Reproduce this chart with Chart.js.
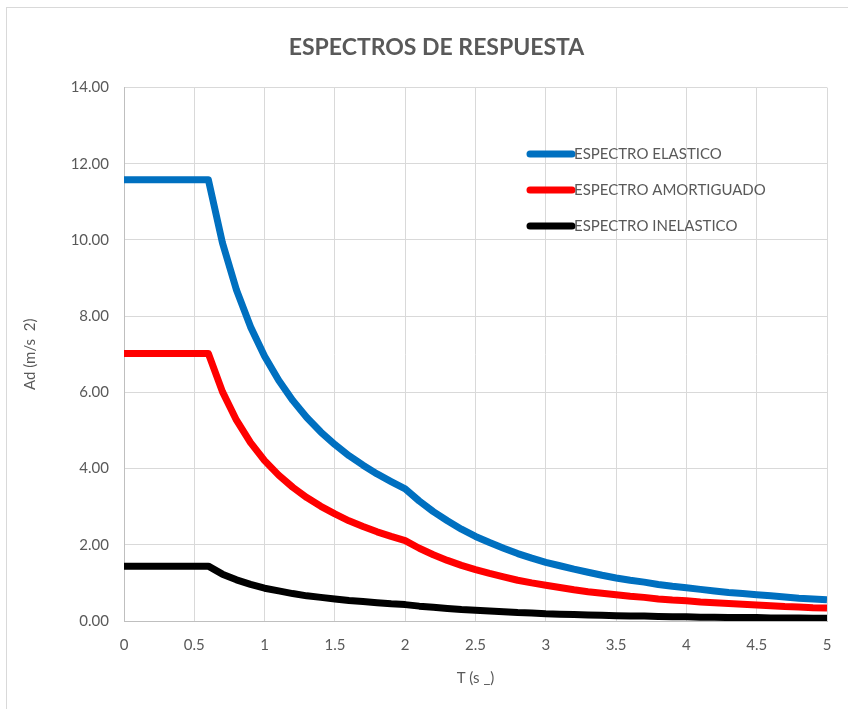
<!DOCTYPE html>
<html>
<head>
<meta charset="utf-8">
<title>Espectros de respuesta</title>
<script src="https://cdn.jsdelivr.net/npm/chart.js@4.4.1/dist/chart.umd.min.js"></script>
<style>
    html, body { margin: 0; padding: 0; background: #ffffff; overflow: hidden; }
    #wrap { position: relative; width: 848px; height: 709px; }
    #frame {
        position: absolute; left: 6px; top: 7px; width: 900px; height: 800px;
        border-left: 1px solid #d9d9d9; border-top: 1px solid #d9d9d9;
    }
    #espectros { position: absolute; left: 0; top: 0; }
</style>
</head>
<body>
<div id="wrap">
    <div id="frame"></div>
    <canvas id="espectros" width="848" height="709"></canvas>
</div>
<script>
// Periodo T (s)
const periods = [
    0.0, 0.1, 0.2, 0.3, 0.4, 0.5, 0.6, 0.7, 0.8, 0.9,
    1.0, 1.1, 1.2, 1.3, 1.4, 1.5, 1.6, 1.7, 1.8, 1.9,
    2.0, 2.1, 2.2, 2.3, 2.4, 2.5, 2.6, 2.7, 2.8, 2.9,
    3.0, 3.1, 3.2, 3.3, 3.4, 3.5, 3.6, 3.7, 3.8, 3.9,
    4.0, 4.1, 4.2, 4.3, 4.4, 4.5, 4.6, 4.7, 4.8, 4.9,
    5.0
];

// Ad (m/s2)
const espectroElastico = [
    11.58, 11.58, 11.58, 11.58, 11.58, 11.58, 11.58, 9.93, 8.69, 7.72,
    6.95, 6.32, 5.79, 5.34, 4.96, 4.63, 4.34, 4.09, 3.86, 3.66,
    3.47, 3.15, 2.87, 2.63, 2.41, 2.22, 2.06, 1.91, 1.77, 1.65,
    1.54, 1.45, 1.36, 1.28, 1.20, 1.13, 1.07, 1.02, 0.96, 0.91,
    0.87, 0.83, 0.79, 0.75, 0.72, 0.69, 0.66, 0.63, 0.60, 0.58,
    0.56
];

const espectroAmortiguado = [
    7.02, 7.02, 7.02, 7.02, 7.02, 7.02, 7.02, 6.02, 5.27, 4.68,
    4.21, 3.83, 3.51, 3.24, 3.01, 2.81, 2.63, 2.48, 2.34, 2.22,
    2.11, 1.91, 1.74, 1.59, 1.46, 1.35, 1.25, 1.16, 1.07, 1.00,
    0.94, 0.88, 0.82, 0.77, 0.73, 0.69, 0.65, 0.62, 0.58, 0.55,
    0.53, 0.50, 0.48, 0.46, 0.44, 0.42, 0.40, 0.38, 0.37, 0.35,
    0.34
];

const espectroInelastico = [
    1.44, 1.44, 1.44, 1.44, 1.44, 1.44, 1.44, 1.23, 1.08, 0.96,
    0.86, 0.79, 0.72, 0.66, 0.62, 0.58, 0.54, 0.51, 0.48, 0.45,
    0.43, 0.39, 0.36, 0.33, 0.30, 0.28, 0.26, 0.24, 0.22, 0.21,
    0.19, 0.18, 0.17, 0.16, 0.15, 0.14, 0.13, 0.13, 0.12, 0.11,
    0.11, 0.10, 0.10, 0.09, 0.09, 0.09, 0.08, 0.08, 0.08, 0.07,
    0.07
];

const seriesNames = ['ESPECTRO ELASTICO', 'ESPECTRO AMORTIGUADO', 'ESPECTRO INELASTICO'];
const seriesColors = ['#0070c0', '#ff0000', '#000000'];

const textColor = '#595959';
const gridColor = '#d9d9d9';
const baseFont = 'Lato, "Liberation Sans", sans-serif';

function toPoints(values) {
    return periods.map((t, i) => ({ x: t, y: values[i] }));
}

function makeDataset(idx, values) {
    return {
        label: seriesNames[idx],
        data: toPoints(values),
        borderColor: seriesColors[idx],
        backgroundColor: seriesColors[idx],
        borderWidth: 7,
        borderJoinStyle: 'round',
        borderCapStyle: 'butt',
        pointRadius: 0,
        tension: 0,
        fill: false
    };
}

// Legend drawn inside the plot area, like the Excel original
const insideLegend = {
    id: 'insideLegend',
    afterDatasetsDraw(chart) {
        const ctx = chart.ctx;
        const x0 = 530, x1 = 572, yStart = 154, gap = 36;
        ctx.save();
        ctx.font = '15px ' + baseFont;
        ctx.textBaseline = 'middle';
        ctx.textAlign = 'left';
        chart.data.datasets.forEach((ds, i) => {
            const y = yStart + i * gap;
            ctx.strokeStyle = ds.borderColor;
            ctx.lineWidth = 7;
            ctx.lineCap = 'round';
            ctx.beginPath();
            ctx.moveTo(x0, y);
            ctx.lineTo(x1, y);
            ctx.stroke();
            ctx.fillStyle = textColor;
            ctx.fillText(ds.label, x1 + 2, y);
        });
        ctx.restore();
    }
};

const ctx = document.getElementById('espectros').getContext('2d');

new Chart(ctx, {
    type: 'line',
    data: {
        datasets: [
            makeDataset(0, espectroElastico),
            makeDataset(1, espectroAmortiguado),
            makeDataset(2, espectroInelastico)
        ]
    },
    options: {
        responsive: false,
        animation: false,
        layout: {
            padding: { left: 46, right: 21, top: 10, bottom: 0 }
        },
        plugins: {
            legend: { display: false },
            tooltip: { enabled: false },
            title: {
                display: true,
                text: 'ESPECTROS DE RESPUESTA',
                color: textColor,
                font: { family: baseFont, size: 23, weight: 'bold' },
                padding: { top: 24, bottom: 26 }
            }
        },
        scales: {
            x: {
                type: 'linear',
                min: 0,
                max: 5,
                afterFit(scale) { scale.height = 88; },
                ticks: {
                    stepSize: 0.5,
                    color: textColor,
                    font: { family: baseFont, size: 15 },
                    padding: 15,
                    maxRotation: 0,
                    callback: (v) => String(Math.round(v * 10) / 10)
                },
                grid: { color: gridColor, drawTicks: false },
                border: { color: '#bfbfbf' },
                title: {
                    display: true,
                    text: 'T (s _)',
                    color: textColor,
                    font: { family: baseFont, size: 15 },
                    padding: { top: 0, bottom: 22 }
                }
            },
            y: {
                min: 0,
                max: 14,
                afterFit(scale) { scale.width = 78; },
                ticks: {
                    stepSize: 2,
                    color: textColor,
                    font: { family: baseFont, size: 15 },
                    padding: 15,
                    callback: (v) => v.toFixed(2)
                },
                grid: { color: gridColor, drawTicks: false },
                border: { color: '#bfbfbf' },
                title: {
                    display: true,
                    text: 'Ad (m/s  2)',
                    color: textColor,
                    font: { family: baseFont, size: 15 },
                    padding: { top: -25, bottom: 0 }
                }
            }
        }
    },
    plugins: [insideLegend]
});
</script>
</body>
</html>
